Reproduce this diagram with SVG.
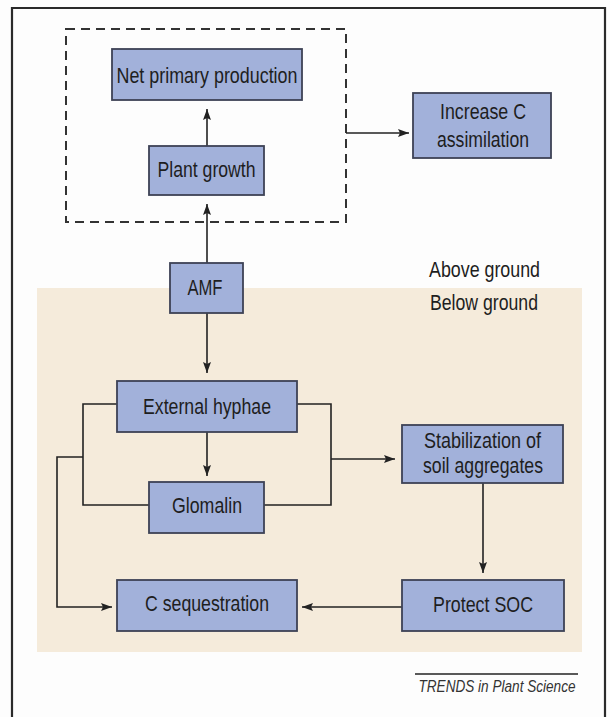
<svg xmlns="http://www.w3.org/2000/svg" width="610" height="717" viewBox="0 0 610 717">
<defs>
<style>
.node rect{fill:#a2b1da;stroke:#3d4255;stroke-width:1.8}
.node text,.lbl{font-family:"Liberation Sans",Arial,sans-serif;font-size:22px;fill:#1e1e1e;text-anchor:middle}
.conn path{fill:none;stroke:#222;stroke-width:1.6}
.arr{marker-end:url(#ah)}
</style>
<marker id="ah" markerUnits="userSpaceOnUse" markerWidth="11" markerHeight="8" refX="11" refY="4" orient="auto">
<path d="M0,0 L11,4 L0,8 L2,4 z" fill="#222"/>
</marker>
</defs>
<rect x="0" y="0" width="610" height="717" fill="#fdfdfd"/>
<path d="M12,717 V8 H605 V717" fill="none" stroke="#2a2a2a" stroke-width="2.2"/>
<rect id="below-ground" x="37" y="288" width="545" height="364" fill="#f5ebdb"/>
<rect id="plant-box" x="66" y="29" width="280" height="193" fill="none" stroke="#333" stroke-width="2" stroke-dasharray="9,6"/>
<text class="lbl" x="484.5" y="277" textLength="111" lengthAdjust="spacingAndGlyphs">Above ground</text>
<text class="lbl" x="484" y="310" textLength="108" lengthAdjust="spacingAndGlyphs">Below ground</text>
<g class="conn">
<path class="arr" d="M207,146 V109"/>
<path class="arr" d="M207,263 V204"/>
<path class="arr" d="M346,133 H409"/>
<path class="arr" d="M207,313 V373"/>
<path class="arr" d="M207,432 V476"/>
<path d="M117,404 H83 V505 H149"/>
<path d="M297,404 H331 V505 H264"/>
<path class="arr" d="M331,459 H395"/>
<path class="arr" d="M83,457 H57 V607 H112"/>
<path class="arr" d="M483,483 V573"/>
<path class="arr" d="M402,607 H302"/>
</g>
<g id="net-primary-production" class="node"><rect x="112" y="49" width="190" height="51"/><text x="207" y="83" textLength="181" lengthAdjust="spacingAndGlyphs">Net primary production</text></g>
<g id="plant-growth" class="node"><rect x="149" y="146" width="115" height="49"/><text x="206.5" y="177" textLength="98" lengthAdjust="spacingAndGlyphs">Plant growth</text></g>
<g id="increase-c-assimilation" class="node"><rect x="413" y="93" width="138" height="65"/><text x="483" y="119" textLength="86" lengthAdjust="spacingAndGlyphs">Increase C</text><text x="483" y="147" textLength="92" lengthAdjust="spacingAndGlyphs">assimilation</text></g>
<g id="amf" class="node"><rect x="170" y="263" width="73" height="50"/><text x="205" y="295" textLength="35" lengthAdjust="spacingAndGlyphs">AMF</text></g>
<g id="external-hyphae" class="node"><rect x="117" y="381" width="180" height="51"/><text x="207" y="414" textLength="128" lengthAdjust="spacingAndGlyphs">External hyphae</text></g>
<g id="glomalin" class="node"><rect x="149" y="482" width="115" height="51"/><text x="207" y="513" textLength="70" lengthAdjust="spacingAndGlyphs">Glomalin</text></g>
<g id="c-sequestration" class="node"><rect x="117" y="580" width="180" height="51"/><text x="207" y="611" textLength="124" lengthAdjust="spacingAndGlyphs">C sequestration</text></g>
<g id="stabilization" class="node"><rect x="402" y="425" width="161" height="58"/><text x="482.5" y="448" textLength="117" lengthAdjust="spacingAndGlyphs">Stabilization of</text><text x="483" y="473" textLength="120" lengthAdjust="spacingAndGlyphs">soil aggregates</text></g>
<g id="protect-soc" class="node"><rect x="402" y="580" width="162" height="51"/><text x="483" y="612" textLength="100" lengthAdjust="spacingAndGlyphs">Protect SOC</text></g>
<path d="M415,674 H578" stroke="#222" stroke-width="1.5"/>
<text transform="translate(497,692) scale(0.8,1)" x="0" y="0" font-family="'Liberation Sans',Arial,sans-serif" font-size="17" font-style="italic" fill="#333" text-anchor="middle">TRENDS in Plant Science</text>
</svg>
